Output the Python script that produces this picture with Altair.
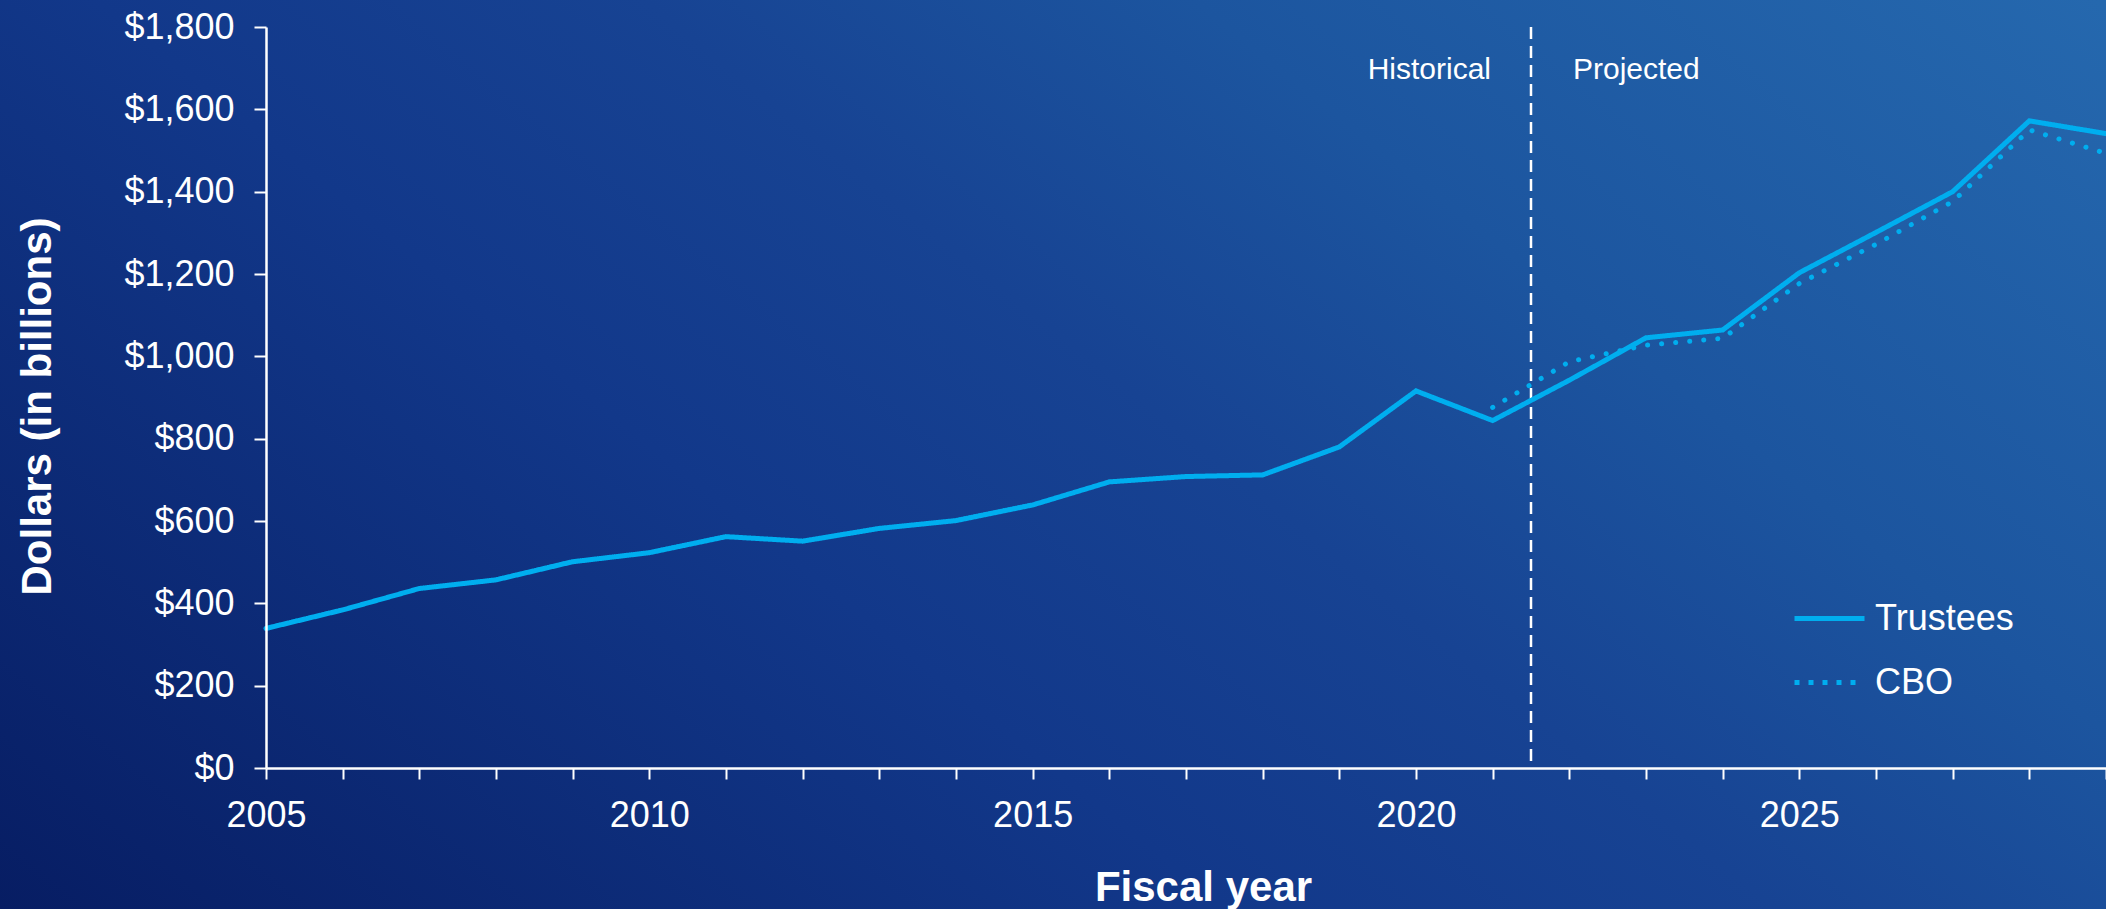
import altair as alt
import pandas as pd

# ---- data ----
years = list(range(2005, 2030))
trustees = [339, 384, 436, 457, 501, 523, 562, 551, 582, 601, 639, 695, 708,
            712, 780, 916, 844, 942, 1045, 1064, 1203, 1301, 1400, 1572, 1541]
cbo_years = list(range(2021, 2030))
cbo = [876, 987, 1027, 1044, 1177, 1272, 1376, 1550, 1493]

y_ticks = [0, 200, 400, 600, 800, 1000, 1200, 1400, 1600, 1800]
x_ticks = list(range(2005, 2030))
divider_year = [2021.5]
ann_labels = ["Historical", "Projected"]
ann_y = [1695, 1695]

series_names = ["Trustees", "CBO"]

# ---- tables ----
lines_df = pd.concat([
    pd.DataFrame({"year": years, "value": trustees, "series": "Trustees"}),
    pd.DataFrame({"year": cbo_years, "value": cbo, "series": "CBO"}),
], ignore_index=True)
div_df = pd.DataFrame({"year": divider_year, "top": [1800], "bottom": [0]})
ann_df = pd.DataFrame({"year": divider_year * 2, "y": ann_y, "label": ann_labels})

W, H = 1840, 741
PAD = {"left": 266, "top": 27, "right": 0, "bottom": 141}
LINE_COLOR = "#00AEEF"
FONT = "Liberation Sans"

xscale = alt.Scale(domain=[2005, 2029], nice=False, zero=False)
yscale = alt.Scale(domain=[0, 1800], nice=False)

gradient = alt.Gradient(
    gradient="linear",
    stops=[
        alt.GradientStop(color="#071d63", offset=0),
        alt.GradientStop(color="#12388a", offset=0.38),
        alt.GradientStop(color="#174393", offset=0.55),
        alt.GradientStop(color="#1c559f", offset=0.72),
        alt.GradientStop(color="#2568ae", offset=1),
    ],
    x1=0, y1=1, x2=1.19, y2=0.36,
)

x_axis = alt.Axis(values=x_ticks, format="d",
                  labelExpr="datum.value % 5 == 0 ? datum.label : ''",
                  title="Fiscal year", titleX=937, titleY=132,
                  titleBaseline="alphabetic", titleAlign="center",
                  tickSize=11, labelPadding=19, labelFlush=False, zindex=2)
y_axis = alt.Axis(values=y_ticks, format="$,.0f",
                  title="Dollars (in billions)", titleX=-216, titleY=379,
                  titleAngle=-90, titleAlign="center", titleBaseline="alphabetic",
                  tickSize=12, labelPadding=20, labelFlush=False, zindex=2)

X = lambda f: alt.X(f, scale=xscale, axis=x_axis)
Y = lambda f: alt.Y(f, scale=yscale, axis=y_axis)

bg = alt.Chart(pd.DataFrame({"k": [0]})).mark_rect(fill=gradient, strokeWidth=0).encode(
    x=alt.value(-PAD["left"]), x2=alt.value(W + PAD["right"]),
    y=alt.value(-PAD["top"]), y2=alt.value(H + PAD["bottom"]),
)

divider = alt.Chart(div_df).mark_rule(color="white", strokeWidth=2.5, strokeDash=[12, 7]).encode(
    x=X("year:Q"), y=Y("top:Q"), y2="bottom:Q",
)

hist = alt.Chart(ann_df[ann_df.label == "Historical"]).mark_text(
    align="right", baseline="middle", dx=-40, font=FONT, fontSize=30, color="white"
).encode(x=X("year:Q"), y=Y("y:Q"), text="label:N")

proj = alt.Chart(ann_df[ann_df.label == "Projected"]).mark_text(
    align="left", baseline="middle", dx=42, font=FONT, fontSize=30, color="white"
).encode(x=X("year:Q"), y=Y("y:Q"), text="label:N")

lines = alt.Chart(lines_df).mark_line(color=LINE_COLOR, strokeWidth=5, strokeCap="round").encode(
    x=X("year:Q"),
    y=Y("value:Q"),
    strokeDash=alt.StrokeDash(
        "series:N",
        scale=alt.Scale(domain=series_names, range=[[1, 0], [0.1, 14]]),
        legend=None,
    ),
    order="year:Q",
)

# legend-only layer (draws no line, only supplies the key)
legend_layer = alt.Chart(lines_df).transform_filter("false").mark_line(
    color=LINE_COLOR, strokeWidth=5
).encode(
    x=X("year:Q"),
    y=Y("value:Q"),
    strokeDash=alt.StrokeDash(
        "series:N",
        scale=alt.Scale(domain=series_names, range=[[1, 0], [5, 9]]),
        legend=alt.Legend(
            title=None, orient="none", legendX=1526, legendY=554,
            symbolType="stroke", symbolSize=4900, symbolStrokeWidth=5,
            symbolStrokeColor=LINE_COLOR, labelFont=FONT, labelFontSize=36,
            labelColor="white", labelOffset=8, rowPadding=8, padding=0, zindex=2,
        ),
    ),
)

chart = alt.layer(bg, divider, hist, proj, lines, legend_layer).resolve_scale(
    strokeDash="independent"
).properties(
    width=W, height=H, padding=PAD,
    autosize=alt.AutoSizeParams(type="none"),
    background="#12388a",
).configure_view(stroke=None).configure_axis(
    domainColor="white", domainWidth=2.5, tickColor="white", tickWidth=2,
    labelColor="white", labelFont=FONT, labelFontSize=36,
    titleColor="white", titleFont=FONT, titleFontSize=42, titleFontWeight="bold",
    grid=False,
)

chart.save("out.html", embed_options={"renderer": "svg", "actions": False})
